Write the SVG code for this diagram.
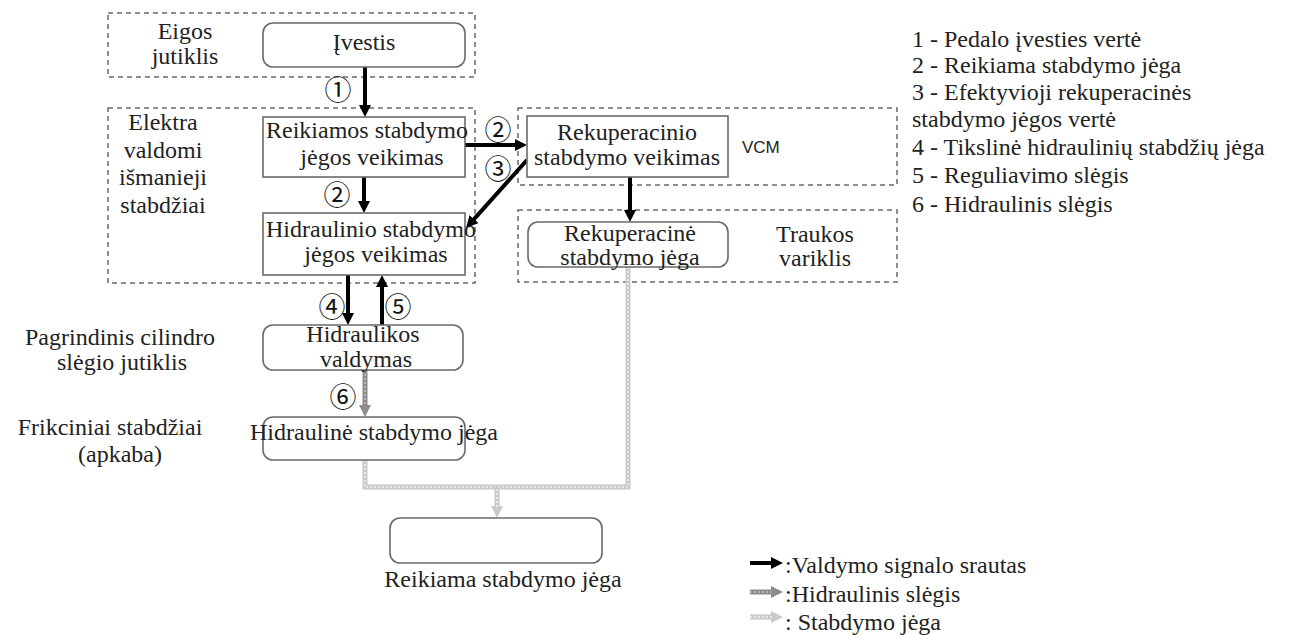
<svg xmlns="http://www.w3.org/2000/svg" width="1293" height="635" viewBox="0 0 1293 635">
<style>
.t{font-family:"Liberation Serif","Tinos","Times New Roman","DejaVu Serif",serif;font-size:24px;fill:#222}
.c{text-anchor:middle}
.n{font-family:"Noto Sans CJK JP","DejaVu Sans",sans-serif;font-size:27px;fill:#111;text-anchor:middle;dominant-baseline:central}
.grp{fill:none;stroke:#6a6a6a;stroke-width:1.5;stroke-dasharray:5 4}
.box{fill:#fff;stroke:#6a6a6a;stroke-width:1.6}
.sig{fill:none;stroke:#000;stroke-width:4;marker-end:url(#ah)}
.hyd{fill:none;stroke:#8c8c8c;stroke-width:5;marker-end:url(#ahg)}
.hydi{fill:none;stroke:#bdbdbd;stroke-width:1.5;stroke-dasharray:2 2}
.brk{fill:none;stroke:#c9c9c9;stroke-width:5}
.brki{fill:none;stroke:#f2f2f2;stroke-width:1.5;stroke-dasharray:2 2}
</style>
<defs>
<marker id="ah" markerUnits="userSpaceOnUse" markerWidth="14" markerHeight="12" refX="2" refY="6" orient="auto"><path d="M0,0 L12,6 L0,12 z" fill="#000"/></marker>
<marker id="ahg" markerUnits="userSpaceOnUse" markerWidth="14" markerHeight="12" refX="2" refY="6" orient="auto"><path d="M0,0 L12,6 L0,12 z" fill="#8c8c8c"/></marker>
<marker id="ahl" markerUnits="userSpaceOnUse" markerWidth="14" markerHeight="12" refX="2" refY="6" orient="auto"><path d="M0,0 L12,6 L0,12 z" fill="#c9c9c9"/></marker>
</defs>
<rect width="1293" height="635" fill="#fff"/>

<g id="groups">
<rect class="grp" x="108" y="13" width="367" height="64"/>
<rect class="grp" x="108" y="108" width="367" height="175"/>
<rect class="grp" x="518" y="108" width="379" height="77"/>
<rect class="grp" x="518" y="210" width="379" height="72"/>
</g>

<g id="group-labels">
<text class="t c" x="185" y="39">Eigos</text>
<text class="t c" x="185" y="64">jutiklis</text>
<text class="t c" x="163" y="130">Elektra</text>
<text class="t c" x="163" y="158">valdomi</text>
<text class="t c" x="163" y="185">išmanieji</text>
<text class="t c" x="163" y="213">stabdžiai</text>
<text x="742" y="153" style="font-family:'Liberation Sans',Arial,sans-serif;font-size:17px;fill:#222">VCM</text>
<text class="t c" x="815" y="242">Traukos</text>
<text class="t c" x="815" y="266">variklis</text>
<text class="t c" x="120" y="345">Pagrindinis cilindro</text>
<text class="t c" x="122" y="370">slėgio jutiklis</text>
<text class="t c" x="110" y="435">Frikciniai stabdžiai</text>
<text class="t c" x="120" y="462">(apkaba)</text>
</g>

<g id="connectors">
<line class="sig" x1="365" y1="67" x2="365" y2="107"/>
<line class="sig" x1="465" y1="145" x2="517" y2="145"/>
<line class="sig" x1="527" y1="160" x2="472.7" y2="220.6"/>
<line class="sig" x1="364" y1="177" x2="364" y2="203"/>
<line class="sig" x1="348" y1="275" x2="348" y2="315"/>
<line class="sig" x1="382" y1="325" x2="382" y2="285"/>
<line class="sig" x1="630" y1="177" x2="630" y2="212"/>
<line class="hyd" x1="365" y1="370" x2="365" y2="407"/>
<line class="hydi" x1="365" y1="370" x2="365" y2="405"/>
<path class="brk" d="M365,460 V487 H628 V267"/>
<path class="brki" d="M365,460 V487 H628 V267"/>
<line class="brk" x1="497" y1="487" x2="497" y2="508" style="marker-end:url(#ahl)"/>
<line class="brki" x1="497" y1="489" x2="497" y2="508"/>
</g>

<g id="labels">
<text class="n" x="338" y="88">①</text>
<text class="n" x="498" y="128">②</text>
<text class="n" x="498" y="167">③</text>
<text class="n" x="337" y="193">②</text>
<text class="n" x="332" y="305">④</text>
<text class="n" x="398" y="305">⑤</text>
<text class="n" x="343" y="395">⑥</text>
</g>

<g id="node-ivestis">
<rect class="box" x="263" y="23" width="202" height="44" rx="10"/>
<text class="t c" x="364" y="50">Įvestis</text>
</g>
<g id="node-reikiamos">
<rect class="box" x="263" y="117" width="202" height="60"/>
<text class="t" x="266" y="138">Reikiamos stabdymo</text>
<text class="t c" x="372" y="165">jėgos veikimas</text>
</g>
<g id="node-hidraulinio">
<rect class="box" x="263" y="213" width="202" height="62"/>
<text class="t" x="266" y="237">Hidraulinio stabdymo</text>
<text class="t c" x="376" y="262">jėgos veikimas</text>
</g>
<g id="node-rekuperacinio">
<rect class="box" x="527" y="116" width="201" height="61"/>
<text class="t c" x="627" y="140">Rekuperacinio</text>
<text class="t c" x="627" y="165">stabdymo veikimas</text>
</g>
<g id="node-rekuperacine">
<rect class="box" x="528" y="222" width="200" height="45" rx="10"/>
<text class="t c" x="630" y="241">Rekuperacinė</text>
<text class="t c" x="630" y="265">stabdymo jėga</text>
</g>
<g id="node-hidraulikos">
<rect class="box" x="263" y="325" width="200" height="45" rx="10"/>
<text class="t c" x="363" y="342">Hidraulikos</text>
<text class="t c" x="366" y="367">valdymas</text>
</g>
<g id="node-hidrauline">
<rect class="box" x="263" y="417" width="202" height="43" rx="10"/>
<text class="t" x="250" y="440">Hidraulinė stabdymo jėga</text>
</g>
<g id="node-reikiama">
<rect class="box" x="390" y="518" width="212" height="45" rx="10"/>
<text class="t c" x="503" y="587">Reikiama stabdymo jėga</text>
</g>

<g id="legend-numbers">
<text class="t" x="912" y="47">1 - Pedalo įvesties vertė</text>
<text class="t" x="912" y="73">2 - Reikiama stabdymo jėga</text>
<text class="t" x="912" y="100">3 - Efektyvioji rekuperacinės</text>
<text class="t" x="912" y="127">stabdymo jėgos vertė</text>
<text class="t" x="912" y="155">4 - Tikslinė hidraulinių stabdžių jėga</text>
<text class="t" x="912" y="183">5 - Reguliavimo slėgis</text>
<text class="t" x="912" y="212">6 - Hidraulinis slėgis</text>
</g>

<g id="legend-lines">
<line class="sig" x1="750" y1="563" x2="773" y2="563"/>
<line class="hyd" x1="750" y1="592" x2="773" y2="592"/>
<line class="hydi" x1="750" y1="592" x2="772" y2="592"/>
<line class="brk" x1="750" y1="617" x2="773" y2="617" style="marker-end:url(#ahl)"/>
<line class="brki" x1="750" y1="617" x2="772" y2="617"/>
<text class="t" x="785" y="573">:Valdymo signalo srautas</text>
<text class="t" x="785" y="602">:Hidraulinis slėgis</text>
<text class="t" x="785" y="630">: Stabdymo jėga</text>
</g>
</svg>
